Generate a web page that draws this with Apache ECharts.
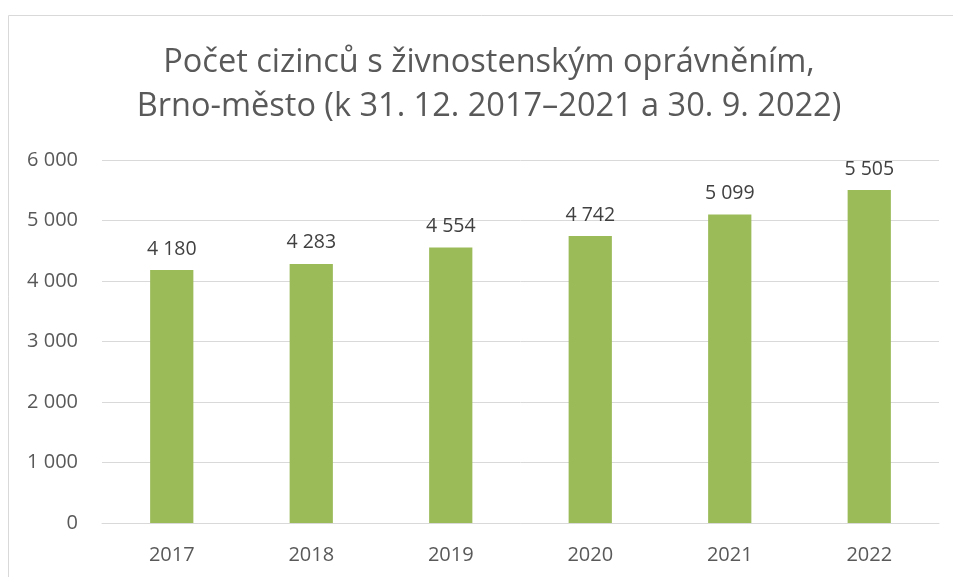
<!DOCTYPE html>
<html>
<head>
<meta charset="utf-8">
<script src="https://cdn.jsdelivr.net/npm/echarts@6/dist/echarts.min.js"></script>
<style>
  html, body { margin: 0; padding: 0; background: #fff; }
  #chart { width: 953px; height: 577px; }
</style>
</head>
<body>
<div id="chart"></div>
<script>
const years = ['2017', '2018', '2019', '2020', '2021', '2022']
const counts = [4180, 4283, 4554, 4742, 5099, 5505]
const titleLines = ['Počet cizinců s živnostenským oprávněním,', 'Brno-město (k 31. 12. 2017–2021 a 30. 9. 2022)']

// czech style thousands: space separator
function fmt(v) {
  return String(v).replace(/\B(?=(\d{3})+(?!\d))/g, ' ')
}

const chart = echarts.init(document.getElementById('chart'))
chart.setOption({
  animation: false,
  textStyle: { fontFamily: 'Open Sans' },
  graphic: [{
    type: 'rect',
    shape: { x: 8.5, y: 15.5, width: 1000, height: 600 },
    style: { fill: 'none', stroke: '#d9d9d9', lineWidth: 1 },
    silent: true
  }, {
    type: 'text',
    x: 489,
    y: 85,
    style: {
      text: titleLines.join('\n'),
      align: 'center',
      verticalAlign: 'middle',
      font: '32.5px "Open Sans"',
      lineHeight: 44,
      fill: '#595959'
    },
    silent: true
  }],
  grid: {
    left: 102,
    right: 14,
    top: 160,
    bottom: 54
  },
  xAxis: {
    type: 'category',
    data: years,
    axisTick: { show: false },
    axisLine: { lineStyle: { color: '#d9d9d9', width: 1 } },
    axisLabel: { color: '#595959', fontSize: 20, margin: 22 }
  },
  yAxis: {
    type: 'value',
    min: 0,
    max: 6000,
    interval: 1000,
    axisLine: { show: false },
    axisTick: { show: false },
    splitLine: { lineStyle: { color: '#d9d9d9', width: 1 } },
    axisLabel: { color: '#595959', fontSize: 20, margin: 24, formatter: fmt }
  },
  series: [{
    type: 'bar',
    data: counts,
    barWidth: '31%',
    itemStyle: { color: '#9bbb59' },
    label: {
      show: true,
      position: 'top',
      distance: 11,
      color: '#404040',
      fontSize: 19.5,
      formatter: p => fmt(p.value)
    }
  }]
})
</script>
</body>
</html>
